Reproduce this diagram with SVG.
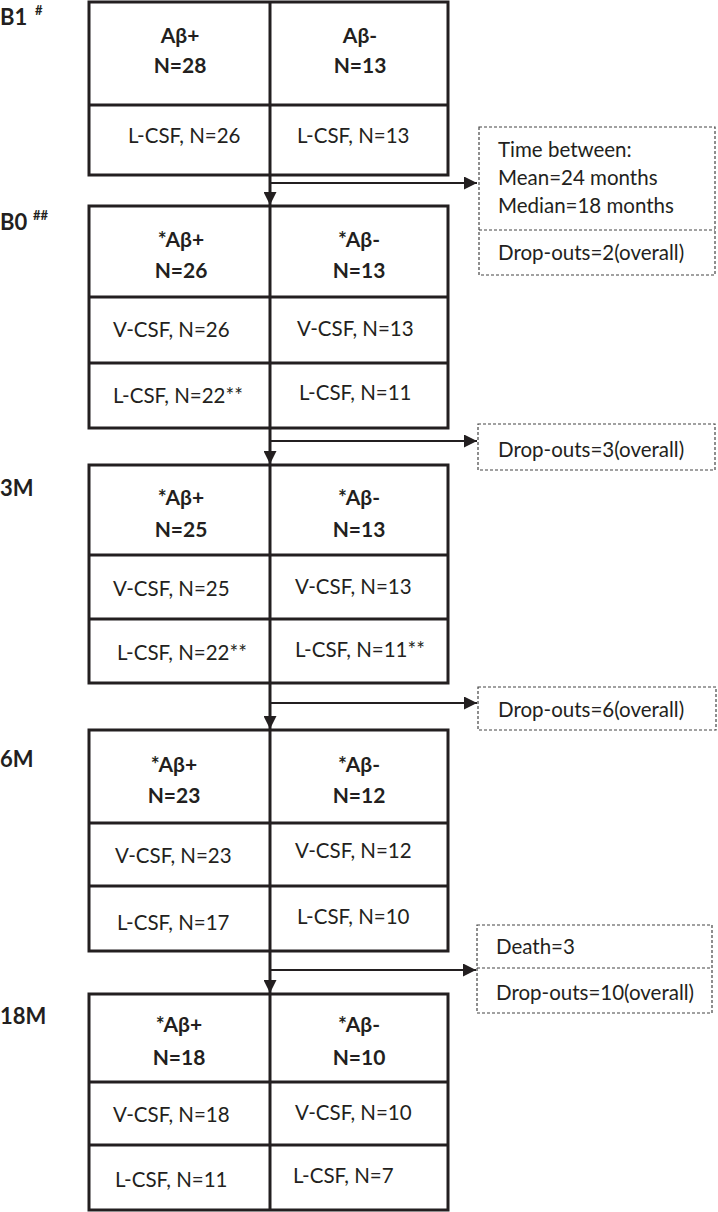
<svg xmlns="http://www.w3.org/2000/svg" width="718" height="1212" viewBox="0 0 718 1212">
<style>
  .bx{fill:#fff;stroke:#231f20;stroke-width:3}
  .ln{stroke:#231f20;stroke-width:3;fill:none}
  .t{font-family:Lato,"Open Sans",sans-serif;font-size:20.5px;fill:#231f20}
  .h{font-family:Lato,"Open Sans",sans-serif;font-size:21px;font-weight:bold;fill:#231f20;text-anchor:middle}
  .lb{font-family:Lato,"Open Sans",sans-serif;font-size:22px;font-weight:bold;fill:#231f20}
  .sup{font-family:Lato,"Open Sans",sans-serif;font-size:13px;font-weight:bold;fill:#231f20}
  .db{fill:#fff;stroke:#444;stroke-width:1.2;stroke-dasharray:3,2}
  .cv{stroke:#231f20;stroke-width:3;fill:none}
  .ch{stroke:#231f20;stroke-width:2;fill:none}
</style>
<defs>
  <marker id="ah" markerUnits="userSpaceOnUse" markerWidth="14" markerHeight="13" refX="13" refY="6.5" orient="auto">
    <path d="M0,0 L13,6.5 L0,13 z" fill="#231f20"/>
  </marker>
</defs>

<g id="labels">
  <text class="lb" x="0" y="25">B1</text><text class="sup" x="35" y="15">#</text>
  <text class="lb" x="0" y="230">B0</text><text class="sup" x="33" y="220">##</text>
  <text class="lb" x="0" y="496">3M</text>
  <text class="lb" x="0" y="767">6M</text>
  <text class="lb" x="0" y="1024">18M</text>
</g>

<g id="box-B1">
  <rect class="bx" x="89" y="2" width="359" height="173"/>
  <line class="ln" x1="89" y1="105" x2="448" y2="105"/>
  <line class="ln" x1="270" y1="2" x2="270" y2="175"/>
  <text class="h" x="180" y="43">Aβ+</text><text class="h" x="180" y="73">N=28</text>
  <text class="h" x="360" y="43">Aβ-</text><text class="h" x="360" y="73">N=13</text>
  <text class="t" x="128" y="143">L-CSF, N=26</text>
  <text class="t" x="297" y="143">L-CSF, N=13</text>
</g>

<g id="box-B0">
  <rect class="bx" x="89" y="206" width="359" height="222"/>
  <line class="ln" x1="89" y1="297" x2="448" y2="297"/>
  <line class="ln" x1="89" y1="363" x2="448" y2="363"/>
  <line class="ln" x1="270" y1="206" x2="270" y2="428"/>
  <text class="h" x="181" y="247">*Aβ+</text><text class="h" x="181" y="278">N=26</text>
  <text class="h" x="359" y="247">*Aβ-</text><text class="h" x="359" y="278">N=13</text>
  <text class="t" x="113" y="337">V-CSF, N=26</text>
  <text class="t" x="297" y="336">V-CSF, N=13</text>
  <text class="t" x="113" y="403">L-CSF, N=22**</text>
  <text class="t" x="299" y="400">L-CSF, N=11</text>
</g>

<g id="box-3M">
  <rect class="bx" x="89" y="465" width="359" height="218"/>
  <line class="ln" x1="89" y1="555" x2="448" y2="555"/>
  <line class="ln" x1="89" y1="619" x2="448" y2="619"/>
  <line class="ln" x1="270" y1="465" x2="270" y2="683"/>
  <text class="h" x="181" y="505">*Aβ+</text><text class="h" x="181" y="537">N=25</text>
  <text class="h" x="359" y="505">*Aβ-</text><text class="h" x="359" y="537">N=13</text>
  <text class="t" x="113" y="596">V-CSF, N=25</text>
  <text class="t" x="295" y="594">V-CSF, N=13</text>
  <text class="t" x="117" y="660">L-CSF, N=22**</text>
  <text class="t" x="295" y="657">L-CSF, N=11**</text>
</g>

<g id="box-6M">
  <rect class="bx" x="89" y="730" width="359" height="221"/>
  <line class="ln" x1="89" y1="823" x2="448" y2="823"/>
  <line class="ln" x1="89" y1="886" x2="448" y2="886"/>
  <line class="ln" x1="270" y1="730" x2="270" y2="951"/>
  <text class="h" x="174" y="772">*Aβ+</text><text class="h" x="174" y="803">N=23</text>
  <text class="h" x="359" y="772">*Aβ-</text><text class="h" x="359" y="803">N=12</text>
  <text class="t" x="115" y="863">V-CSF, N=23</text>
  <text class="t" x="295" y="858">V-CSF, N=12</text>
  <text class="t" x="117" y="930">L-CSF, N=17</text>
  <text class="t" x="297" y="924">L-CSF, N=10</text>
</g>

<g id="box-18M">
  <rect class="bx" x="89" y="994" width="359" height="216"/>
  <line class="ln" x1="89" y1="1082" x2="448" y2="1082"/>
  <line class="ln" x1="89" y1="1145" x2="448" y2="1145"/>
  <line class="ln" x1="270" y1="994" x2="270" y2="1210"/>
  <text class="h" x="179" y="1032">*Aβ+</text><text class="h" x="179" y="1065">N=18</text>
  <text class="h" x="359" y="1032">*Aβ-</text><text class="h" x="359" y="1065">N=10</text>
  <text class="t" x="113" y="1122">V-CSF, N=18</text>
  <text class="t" x="295" y="1120">V-CSF, N=10</text>
  <text class="t" x="115" y="1187">L-CSF, N=11</text>
  <text class="t" x="293" y="1183">L-CSF, N=7</text>
</g>

<g id="note-1">
  <rect class="db" x="479" y="127" width="236" height="148"/>
  <line class="db" x1="479" y1="230" x2="715" y2="230"/>
  <text class="t" x="498" y="157">Time between:</text>
  <text class="t" x="498" y="185">Mean=24 months</text>
  <text class="t" x="498" y="213">Median=18 months</text>
  <text class="t" x="498" y="260">Drop-outs=2(overall)</text>
</g>
<g id="note-2">
  <rect class="db" x="478" y="424" width="237" height="46"/>
  <text class="t" x="498" y="457">Drop-outs=3(overall)</text>
</g>
<g id="note-3">
  <rect class="db" x="478" y="687" width="238" height="43"/>
  <text class="t" x="498" y="717">Drop-outs=6(overall)</text>
</g>
<g id="note-4">
  <rect class="db" x="477" y="925" width="235" height="88"/>
  <line class="db" x1="477" y1="968" x2="712" y2="968"/>
  <text class="t" x="496" y="954">Death=3</text>
  <text class="t" x="496" y="1000">Drop-outs=10(overall)</text>
</g>

<g id="connectors">
  <line class="cv" x1="270" y1="175" x2="270" y2="205" marker-end="url(#ah)"/>
  <line class="ch" x1="270" y1="183" x2="477" y2="183" marker-end="url(#ah)"/>
  <line class="cv" x1="270" y1="428" x2="270" y2="464" marker-end="url(#ah)"/>
  <line class="ch" x1="270" y1="441" x2="477" y2="441" marker-end="url(#ah)"/>
  <line class="cv" x1="270" y1="683" x2="270" y2="729" marker-end="url(#ah)"/>
  <line class="ch" x1="270" y1="703" x2="477" y2="703" marker-end="url(#ah)"/>
  <line class="cv" x1="270" y1="951" x2="270" y2="993" marker-end="url(#ah)"/>
  <line class="ch" x1="270" y1="970" x2="476" y2="970" marker-end="url(#ah)"/>
</g>
</svg>
